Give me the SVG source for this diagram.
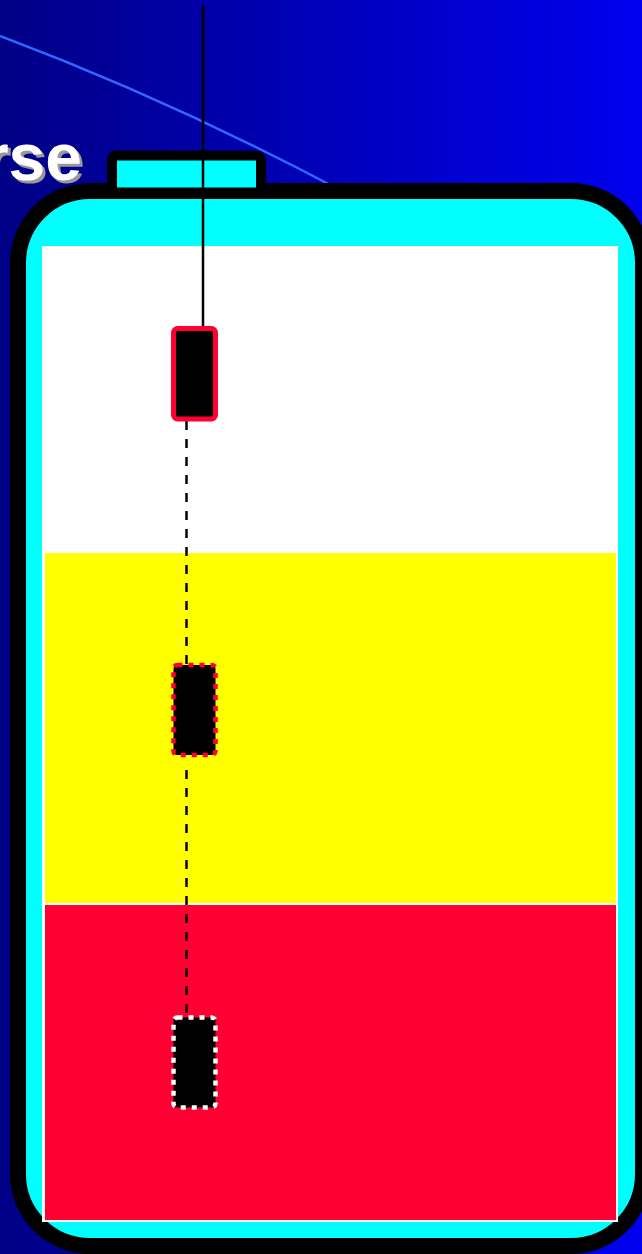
<svg xmlns="http://www.w3.org/2000/svg" width="642" height="1254" viewBox="0 0 642 1254">
<defs>
<linearGradient id="bg" x1="0" y1="0" x2="1" y2="0">
<stop offset="0" stop-color="#000086"/>
<stop offset="1" stop-color="#0000ee"/>
</linearGradient>
<style>
.title{font-family:"Liberation Sans",Arial,sans-serif;font-weight:bold;font-size:66px}
.node{fill:#000}
.conn{stroke:#000;stroke-width:2.5;fill:none}
.dash{stroke-dasharray:9 9}
</style>
</defs>
<rect x="0" y="0" width="642" height="1254" fill="url(#bg)"/>
<path d="M0,36 Q170,100 340,190" fill="none" stroke="#3366ff" stroke-width="2.5"/>
<text class="title" x="85" y="183" text-anchor="end" fill="#999999">rse</text>
<text class="title" x="82" y="180" text-anchor="end" fill="#ffffff">rse</text>
<g id="bottle">
<rect x="18" y="191" width="625" height="1055" rx="72" ry="72" fill="#00ffff" stroke="#000" stroke-width="16"/>
<rect x="112" y="155.5" width="149" height="37" rx="4" fill="#00ffff" stroke="#000" stroke-width="10"/>
</g>
<g id="zones">
<rect x="42" y="246" width="576" height="976" fill="#ffffff"/>
<rect x="45" y="553" width="571" height="350" fill="#ffff00"/>
<rect x="45" y="905" width="571" height="315" fill="#ff0033"/>
</g>
<g id="connectors">
<line class="conn" x1="203" y1="5" x2="203" y2="329"/>
<line class="conn dash" x1="186.5" y1="421" x2="186.5" y2="665"/>
<line class="conn dash" x1="186.5" y1="770" x2="186.5" y2="1017"/>
</g>
<g id="node1">
<rect class="node" x="173.5" y="328.5" width="42" height="90.5" rx="4" stroke="#ff0033" stroke-width="5"/>
</g>
<g id="node2">
<rect class="node" x="173.5" y="665" width="42" height="90" rx="4" stroke="#ff0033" stroke-width="4.5" stroke-dasharray="5 6"/>
</g>
<g id="node3">
<rect class="node" x="173.5" y="1017.5" width="42" height="90" rx="4" stroke="#ffffff" stroke-width="4.5" stroke-dasharray="5 6"/>
</g>
</svg>
